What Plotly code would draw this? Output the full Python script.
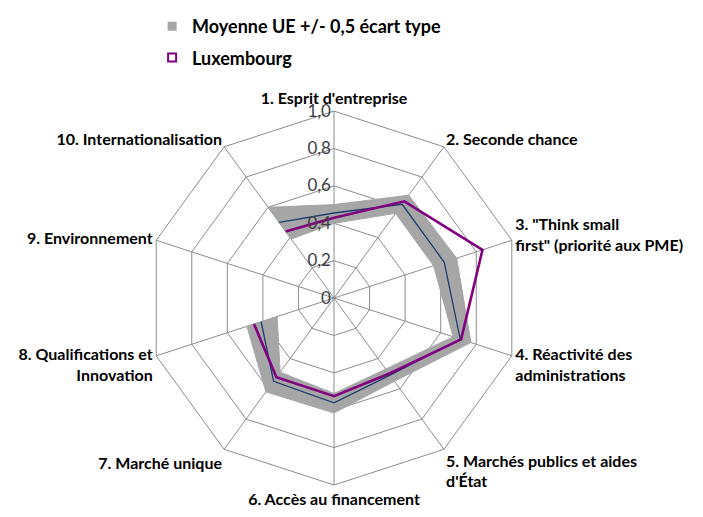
import plotly.graph_objects as go

categories = [
    "1. Esprit d'entreprise",
    "2. Seconde chance",
    "3. \"Think small<br>first\" (priorité aux PME)",
    "4. Réactivité des<br>administrations",
    "5. Marchés publics et aides<br>d'État",
    "6. Accès au financement",
    "7. Marché unique",
    "8. Qualifications et<br>Innovation",
    "9. Environnement",
    "10. Internationalisation",
]
eu_mean = [0.455, 0.62, 0.62, 0.71, 0.51, 0.56, 0.55, 0.41, None, 0.50]
eu_low = [0.40, 0.56, 0.56, 0.67, 0.47, 0.51, 0.49, 0.32, None, 0.39]
eu_high = [0.50, 0.68, 0.69, 0.77, 0.55, 0.615, 0.62, 0.49, None, 0.60]
luxembourg = [0.43, 0.64, 0.835, 0.715, 0.50, 0.525, 0.524, 0.45, None, 0.44]
radial_ticks = [0, 0.2, 0.4, 0.6, 0.8, 1.0]
radial_ticktext = ["0", "0,2", "0,4", "0,6", "0,8", "1,0"]

# start the path at the last category so the gap (missing value) is not bridged
order = [9, 0, 1, 2, 3, 4, 5, 6, 7]
theta_path = [categories[i] for i in order]

band_theta = theta_path + theta_path[::-1]
band_r = [eu_high[i] for i in order] + [eu_low[i] for i in order][::-1]

FONT = "Lato"
GRID = "#8c8c8c"

fig = go.Figure()
fig.add_trace(go.Scatterpolar(
    r=band_r, theta=band_theta, mode="lines", fill="toself",
    fillcolor="#a6a6a6", line=dict(color="#a6a6a6", width=1),
    showlegend=False, hoverinfo="skip"))
fig.add_trace(go.Scatterpolar(
    r=[eu_mean[i] for i in order], theta=theta_path, mode="lines",
    line=dict(color="#1f3d6e", width=1.3), showlegend=False))
fig.add_trace(go.Scatterpolar(
    r=[luxembourg[i] for i in order], theta=theta_path, mode="lines",
    line=dict(color="#800080", width=2.6), showlegend=False))
# legend entries
fig.add_trace(go.Scatterpolar(
    r=[None], theta=[categories[0]], mode="markers",
    marker=dict(symbol="square", size=9, color="#a6a6a6"),
    name="Moyenne UE +/- 0,5 écart type", legendgroup="a"))
fig.add_trace(go.Scatterpolar(
    r=[None], theta=[categories[0]], mode="markers",
    marker=dict(symbol="square-open", size=8, color="#800080",
                line=dict(width=2)),
    name="Luxembourg", legendgroup="b"))

dx = -7 / 703
dy = 7 / 517
fig.update_layout(
    width=703, height=517,
    margin=dict(l=0, r=0, t=0, b=0),
    paper_bgcolor="white", plot_bgcolor="white",
    font=dict(family=FONT, size=16, color="black"),
    showlegend=True,
    legend=dict(x=0.205, y=1.0, xanchor="left", yanchor="top",
                font=dict(family=FONT, size=18, color="black", weight="bold"),
                tracegroupgap=5, bgcolor="rgba(0,0,0,0)"),
    polar=dict(
        domain=dict(x=[0.2077 + dx, 0.7397 + dx], y=[0.0638 + dy, 0.787 + dy]),
        bgcolor="white",
        gridshape="linear",
        angularaxis=dict(
            categoryorder="array", categoryarray=categories,
            direction="clockwise", rotation=90,
            showline=True, linecolor=GRID, linewidth=1,
            gridcolor=GRID, gridwidth=1, ticks="",
            tickfont=dict(family=FONT, size=16, color="black", weight="bold"),
        ),
        radialaxis=dict(
            range=[0, 1], tickvals=radial_ticks, ticktext=radial_ticktext,
            angle=90, side="counterclockwise", tickangle=90,
            showline=False, ticks="", gridcolor=GRID, gridwidth=1,
            tickfont=dict(family=FONT, size=17, color="#404040"),
        ),
    ),
)

fig.write_html("out.html")
